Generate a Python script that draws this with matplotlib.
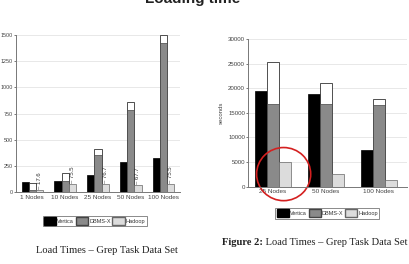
import matplotlib
matplotlib.use("Agg")
import matplotlib.pyplot as plt
from matplotlib.patches import Patch, Ellipse
import numpy as np

# left chart: load times, grep task (seconds)
left_groups = ["1 Nodes", "10 Nodes", "25 Nodes", "50 Nodes", "100 Nodes"]
left_vertica = [95, 100, 160, 290, 325]
left_dbmsx = [20, 100, 355, 780, 1425]
left_dbmsx_total = [85, 180, 415, 860, 1505]
left_hadoop = [17.6, 75.5, 76.7, 67.7, 75.5]
left_hadoop_labels = ["17.6", "75.5", "76.7", "67.7", "75.5"]
left_yticks = [0, 250, 500, 750, 1000, 1250, 1500]

# right chart: figure 2 of the paper
right_groups = ["25 Nodes", "50 Nodes", "100 Nodes"]
right_vertica = [19400, 18900, 7500]
right_dbmsx = [16700, 16800, 16500]
right_dbmsx_total = [25300, 21000, 17800]
right_hadoop = [5000, 2550, 1300]
right_yticks = [0, 5000, 10000, 15000, 20000, 25000, 30000]

series_names = ["Vertica", "DBMS-X", "Hadoop"]

plt.rcParams['font.family'] = ['Liberation Sans', 'DejaVu Sans']
fig = plt.figure(figsize=(4.09, 2.64), dpi=100)

tick_col = "#444444"
grid_col = "#e4e4e4"
serif = ["Liberation Serif", "DejaVu Serif"]


def style_axes(ax, yticks, ysize):
    ax.set_yticks(yticks)
    ax.set_ylim(0, yticks[-1])
    for s in ["top", "right"]:
        ax.spines[s].set_visible(False)
    for s in ["left", "bottom"]:
        ax.spines[s].set_color("#777777")
        ax.spines[s].set_linewidth(0.7)
    ax.yaxis.grid(True, color=grid_col, linewidth=0.6)
    ax.set_axisbelow(True)
    ax.tick_params(axis="x", labelsize=4.6, colors=tick_col, length=0, pad=2)
    ax.tick_params(axis="y", labelsize=ysize, colors=tick_col, length=1.5, width=0.5, pad=0.5)


def draw_bars(ax, vert, dbx, dbx_tot, had, w):
    x = np.arange(len(vert))
    ax.bar(x - w, vert, w, color="black", edgecolor="black", linewidth=0.5)
    ax.bar(x, dbx_tot, w, color="white", edgecolor="#333333", linewidth=0.6)
    ax.bar(x, dbx, w, color="#8a8a8a", edgecolor="#444444", linewidth=0.5)
    ax.bar(x + w, had, w, color="#dcdcdc", edgecolor="#666666", linewidth=0.5)
    return x


def add_legend(ax, anchor):
    handles = [Patch(facecolor="black", edgecolor="black"),
               Patch(facecolor="#8a8a8a", edgecolor="#444444"),
               Patch(facecolor="#dcdcdc", edgecolor="#666666")]
    leg = ax.legend(handles, series_names, loc="center", bbox_to_anchor=anchor,
                    ncol=3, fontsize=4, frameon=True, fancybox=False,
                    handlelength=2.2, handleheight=1.8, handletextpad=0.2,
                    columnspacing=0.3, borderpad=0.25, borderaxespad=0)
    leg.get_frame().set_edgecolor("#555555")
    leg.get_frame().set_linewidth(0.6)
    for t in leg.get_texts():
        t.set_color("#333333")


# left chart
ax1 = fig.add_axes([0.039, 0.273, 0.401, 0.594])
x1 = draw_bars(ax1, left_vertica, left_dbmsx, left_dbmsx_total, left_hadoop, 0.22)
style_axes(ax1, left_yticks, 3.9)
ax1.set_xlim(-0.5, 4.5)
ax1.set_xticks(x1)
ax1.set_xticklabels(left_groups)
for xi, h, lab in zip(x1, left_hadoop, left_hadoop_labels):
    ax1.text(xi + 0.22, h + 8, "– " + lab, rotation=90, ha="center", va="bottom",
             fontsize=4.3, color="#333333")
add_legend(ax1, (0.48, -0.185))

# right chart
ax2 = fig.add_axes([0.606, 0.293, 0.389, 0.559])
x2 = draw_bars(ax2, right_vertica, right_dbmsx, right_dbmsx_total, right_hadoop, 0.226)
style_axes(ax2, right_yticks, 4.4)
ax2.set_xlim(-0.47, 2.53)
ax2.set_xticks(x2)
ax2.set_xticklabels(right_groups)
ax2.set_ylabel("seconds", fontsize=4.3, color=tick_col, labelpad=3)
add_legend(ax2, (0.5, -0.18))
ax2.add_patch(Ellipse((0.225, 0.085), 0.34, 0.36, transform=ax2.transAxes,
                      fill=False, edgecolor="#d42020", linewidth=1.2, clip_on=False))

# title (cut at the top edge in the reference)
fig.text(0.47, 0.99, "Loading time", ha="center", va="baseline",
         fontsize=11, fontweight="bold", color="#222222")

# captions
fig.text(0.262, 0.052, "Load Times – Grep Task Data Set", ha="center", va="center",
         fontsize=7.6, family=serif, color="#222222")
cap = fig.text(0.543, 0.08, "Figure 2:", ha="left", va="center",
               fontsize=7.6, fontweight="bold", family=serif, color="#222222")
ax2.annotate(" Load Times – Grep Task Data Set", xy=(1, 0.5), xycoords=cap,
             ha="left", va="center", fontsize=7.6, family=serif, color="#222222",
             annotation_clip=False)

fig.savefig("out.png", dpi=100)
